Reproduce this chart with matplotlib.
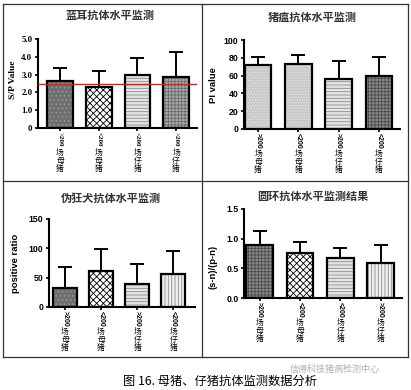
import matplotlib
matplotlib.use("Agg")
import matplotlib.pyplot as plt
import numpy as np
from matplotlib.lines import Line2D

plt.rcParams["font.family"] = ["Noto Sans CJK SC", "DejaVu Sans"]
plt.rcParams["hatch.linewidth"] = 0.6

W, H = 411, 390

# ---- data ----
PRRS_LABELS = [">200场母猪", "<200场母猪", "<200场仔猪", ">200场仔猪"]
PRRS_MEAN = [2.63, 2.30, 3.00, 2.87]
PRRS_SD = [0.74, 0.93, 0.95, 1.38]
PRRS_CUTOFF = 2.5

CSF_LABELS = [">200场母猪", "<200场母猪", ">200场仔猪", "<200场仔猪"]
CSF_MEAN = [71.5, 73.5, 56.0, 60.0]
CSF_SD = [9.0, 9.5, 20.0, 20.5]

PRV_LABELS = [">200场母猪", "<200场母猪", ">200场仔猪", "<200场仔猪"]
PRV_MEAN = [32, 61, 40, 56]
PRV_SD = [37, 38, 34, 40]

PCV_LABELS = [">200场母猪", "<200场母猪", "<200场仔猪", ">200场仔猪"]
PCV_MEAN = [0.90, 0.76, 0.68, 0.59]
PCV_SD = [0.23, 0.18, 0.16, 0.31]

# bar fill styles: (facecolor, hatch, hatch colour)
STY_DARK = ("#6e6e6e", "....", "#9a9a9a")
STY_CHECK = ("white", "xxxxx", "black")
STY_HLINE = ("#e4e4e4", "-----", "#8c8c8c")
STY_VLINE = ("#efefef", "|||||", "#8c8c8c")
STY_GRID = ("#a8a8a8", "+++++", "#6a6a6a")
STY_LIGHT = ("#c8c8c8", "......", "#e8e8e8")
STY_DARKGRID = ("#8a8a8a", "+++++", "#4a4a4a")


def px_axes(fig, x0, x1, ytop, ybot):
    return fig.add_axes([x0 / W, 1 - ybot / H, (x1 - x0) / W, (ybot - ytop) / H])


def draw_panel(fig, box, means, sds, styles, labels, xlim, ylim, yticks, yticklabels,
               title, title_xy, ylabel, ylabel_xy, tickfont, width=0.66):
    ax = px_axes(fig, *box)
    x = np.arange(len(means))
    for xi, m, (fc, h, hc) in zip(x, means, styles):
        ax.bar(xi, m, width, color=fc, hatch=h, edgecolor=hc, linewidth=0, zorder=2)
    ax.bar(x, means, width, fill=False, edgecolor="black", linewidth=1.6, zorder=3)
    ax.errorbar(x, means, yerr=[np.zeros(len(means)), sds], fmt="none", ecolor="black",
                elinewidth=1.4, capsize=5, capthick=1.4, zorder=4)
    ax.set_xlim(*xlim)
    ax.set_ylim(*ylim)
    ax.set_yticks(yticks)
    ax.set_yticklabels(yticklabels, fontsize=6.3, fontweight="bold", family=tickfont)
    ax.set_xticks(x)
    ax.set_xticklabels([])
    ax.tick_params(axis="both", direction="out", length=2.5, width=1.2, pad=1.5)
    for s in ["top", "right"]:
        ax.spines[s].set_visible(False)
    for s in ["left", "bottom"]:
        ax.spines[s].set_linewidth(1.5)
    ax.patch.set_alpha(0)
    # vertical category labels: number part rotated, Chinese upright
    for xi, lab in zip(x, labels):
        head, tail = lab[:4], lab[4:]
        ax.annotate(head, xy=(xi, 0), xycoords=("data", "axes fraction"),
                    xytext=(0, -3), textcoords="offset points", rotation=-90,
                    ha="center", va="top", fontsize=5.0, family=tickfont, fontweight="bold")
        for k, ch in enumerate(tail):
            ax.annotate(ch, xy=(xi, 0), xycoords=("data", "axes fraction"),
                        xytext=(0, -18.0 - 5.9 * k), textcoords="offset points",
                        ha="center", va="center", fontsize=5.6, color="black")
    fig.text(title_xy[0] / W, 1 - title_xy[1] / H, title, ha="center", va="center",
             fontsize=8, fontweight="bold", color="#333333")
    fig.text(ylabel_xy[0] / W, 1 - ylabel_xy[1] / H, ylabel, ha="center", va="center",
             rotation=90, fontsize=6.8, fontweight="bold", family=tickfont)
    return ax


fig = plt.figure(figsize=(W / 100, H / 100), dpi=100)

# panel borders
lines = [
    ((3, 408), (4, 4)), ((3, 408), (357, 357)), ((3, 3), (4, 357)), ((408, 408), (4, 357)),
    ((202, 202), (4, 357)), ((3, 408), (181, 181)),
]
for xs, ys in lines:
    fig.add_artist(Line2D([xs[0] / W, xs[1] / W], [1 - ys[0] / H, 1 - ys[1] / H],
                          color="#333333", linewidth=0.9))

ax1 = draw_panel(fig, (38, 197, 39, 128), PRRS_MEAN, PRRS_SD,
                 [STY_DARK, STY_CHECK, STY_HLINE, STY_GRID], PRRS_LABELS,
                 (-0.57, 3.54), (0, 5), [0, 1, 2, 3, 4, 5],
                 ["0", "1.0", "2.0", "3.0", "4.0", "5.0"],
                 "蓝耳抗体水平监测", (110, 15), "S/P Value", (13, 80), "Liberation Serif")
ax1.axhline(PRRS_CUTOFF, color="#d62020", linewidth=1.0, zorder=5)

draw_panel(fig, (244, 400, 40, 129), CSF_MEAN, CSF_SD,
           [STY_LIGHT, STY_LIGHT, STY_HLINE, STY_DARKGRID], CSF_LABELS,
           (-0.35, 3.52), (0, 100), [0, 20, 40, 60, 80, 100],
           ["0", "20", "40", "60", "80", "100"],
           "猪瘟抗体水平监测", (312, 17), "PI value", (213, 85), "Liberation Sans")

draw_panel(fig, (49, 195, 219, 307), PRV_MEAN, PRV_SD,
           [STY_DARK, STY_CHECK, STY_HLINE, STY_VLINE], PRV_LABELS,
           (-0.44, 3.6), (0, 150), [0, 50, 100, 150],
           ["0", "50", "100", "150"],
           "伪狂犬抗体水平监测", (111, 198), "positive ratio", (15, 263), "Liberation Sans")

draw_panel(fig, (244, 402, 209, 298), PCV_MEAN, PCV_SD,
           [STY_DARKGRID, STY_CHECK, STY_HLINE, STY_VLINE], PCV_LABELS,
           (-0.39, 3.53), (0, 1.5), [0, 0.5, 1.0, 1.5],
           ["0.0", "0.5", "1.0", "1.5"],
           "圆环抗体水平监测结果", (313, 196), "(s-n)/(p-n)", (213, 267), "Liberation Sans")

fig.text(220 / W, 1 - 381 / H, "图 16. 母猪、仔猪抗体监测数据分析", ha="center", va="center",
         fontsize=8.8, color="black")
fig.text(335 / W, 1 - 369 / H, "信得科技猪病检测中心", ha="center", va="center",
         fontsize=6.5, color="#b0b0b0")

fig.savefig("out.png", dpi=100)
